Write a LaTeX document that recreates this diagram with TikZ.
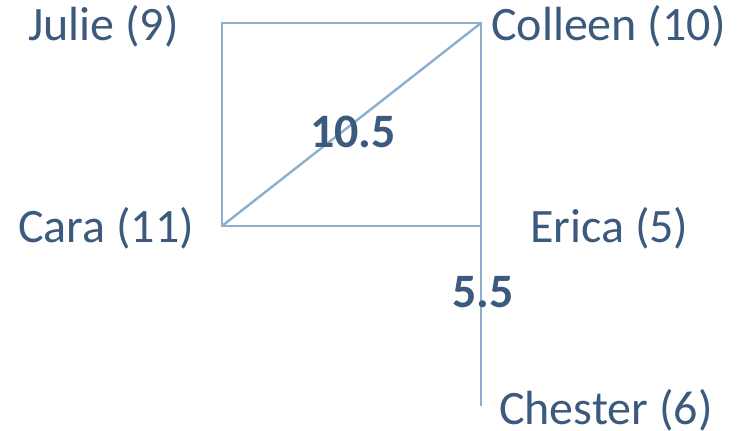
\documentclass[tikz,border=0pt]{standalone}
\usepackage{fontspec}
\setmainfont{Carlito}
\definecolor{txt}{RGB}{59,90,125}
\definecolor{ln}{RGB}{140,175,208}
\begin{document}
\begin{tikzpicture}[x=1pt,y=-1pt,
  lbl/.style={anchor=base west,inner sep=0pt,text=txt,font=\fontsize{48}{56}\selectfont},
  wt/.style={lbl,font=\fontsize{48}{56}\selectfont\bfseries},
  edge/.style={draw=ln,line width=2.4pt}]
\useasboundingbox (0,0) rectangle (742,431);
\coordinate (J) at (222,23);
\coordinate (Co) at (481,23);
\coordinate (Ca) at (222,226);
\coordinate (E) at (481,226);
\coordinate (Ch) at (481,406);
\draw[edge] (J) -- (Co) -- (E) -- (Ca) -- cycle;
\draw[edge] (Ca) -- (Co);
\draw[edge] (E) -- (Ch);
\node[lbl] (julie) at (28,40) {Julie (9)};
\node[lbl] (colleen) at (491,40) {Colleen (10)};
\node[lbl] (cara) at (18,242) {Cara (11)};
\node[lbl] (erica) at (530,242) {Erica (5)};
\node[lbl] (chester) at (499,424) {Chester (6)};
\node[wt] (w1) at (310,147) {10.5};
\node[wt] (w2) at (452,307) {5.5};
\end{tikzpicture}
\end{document}
